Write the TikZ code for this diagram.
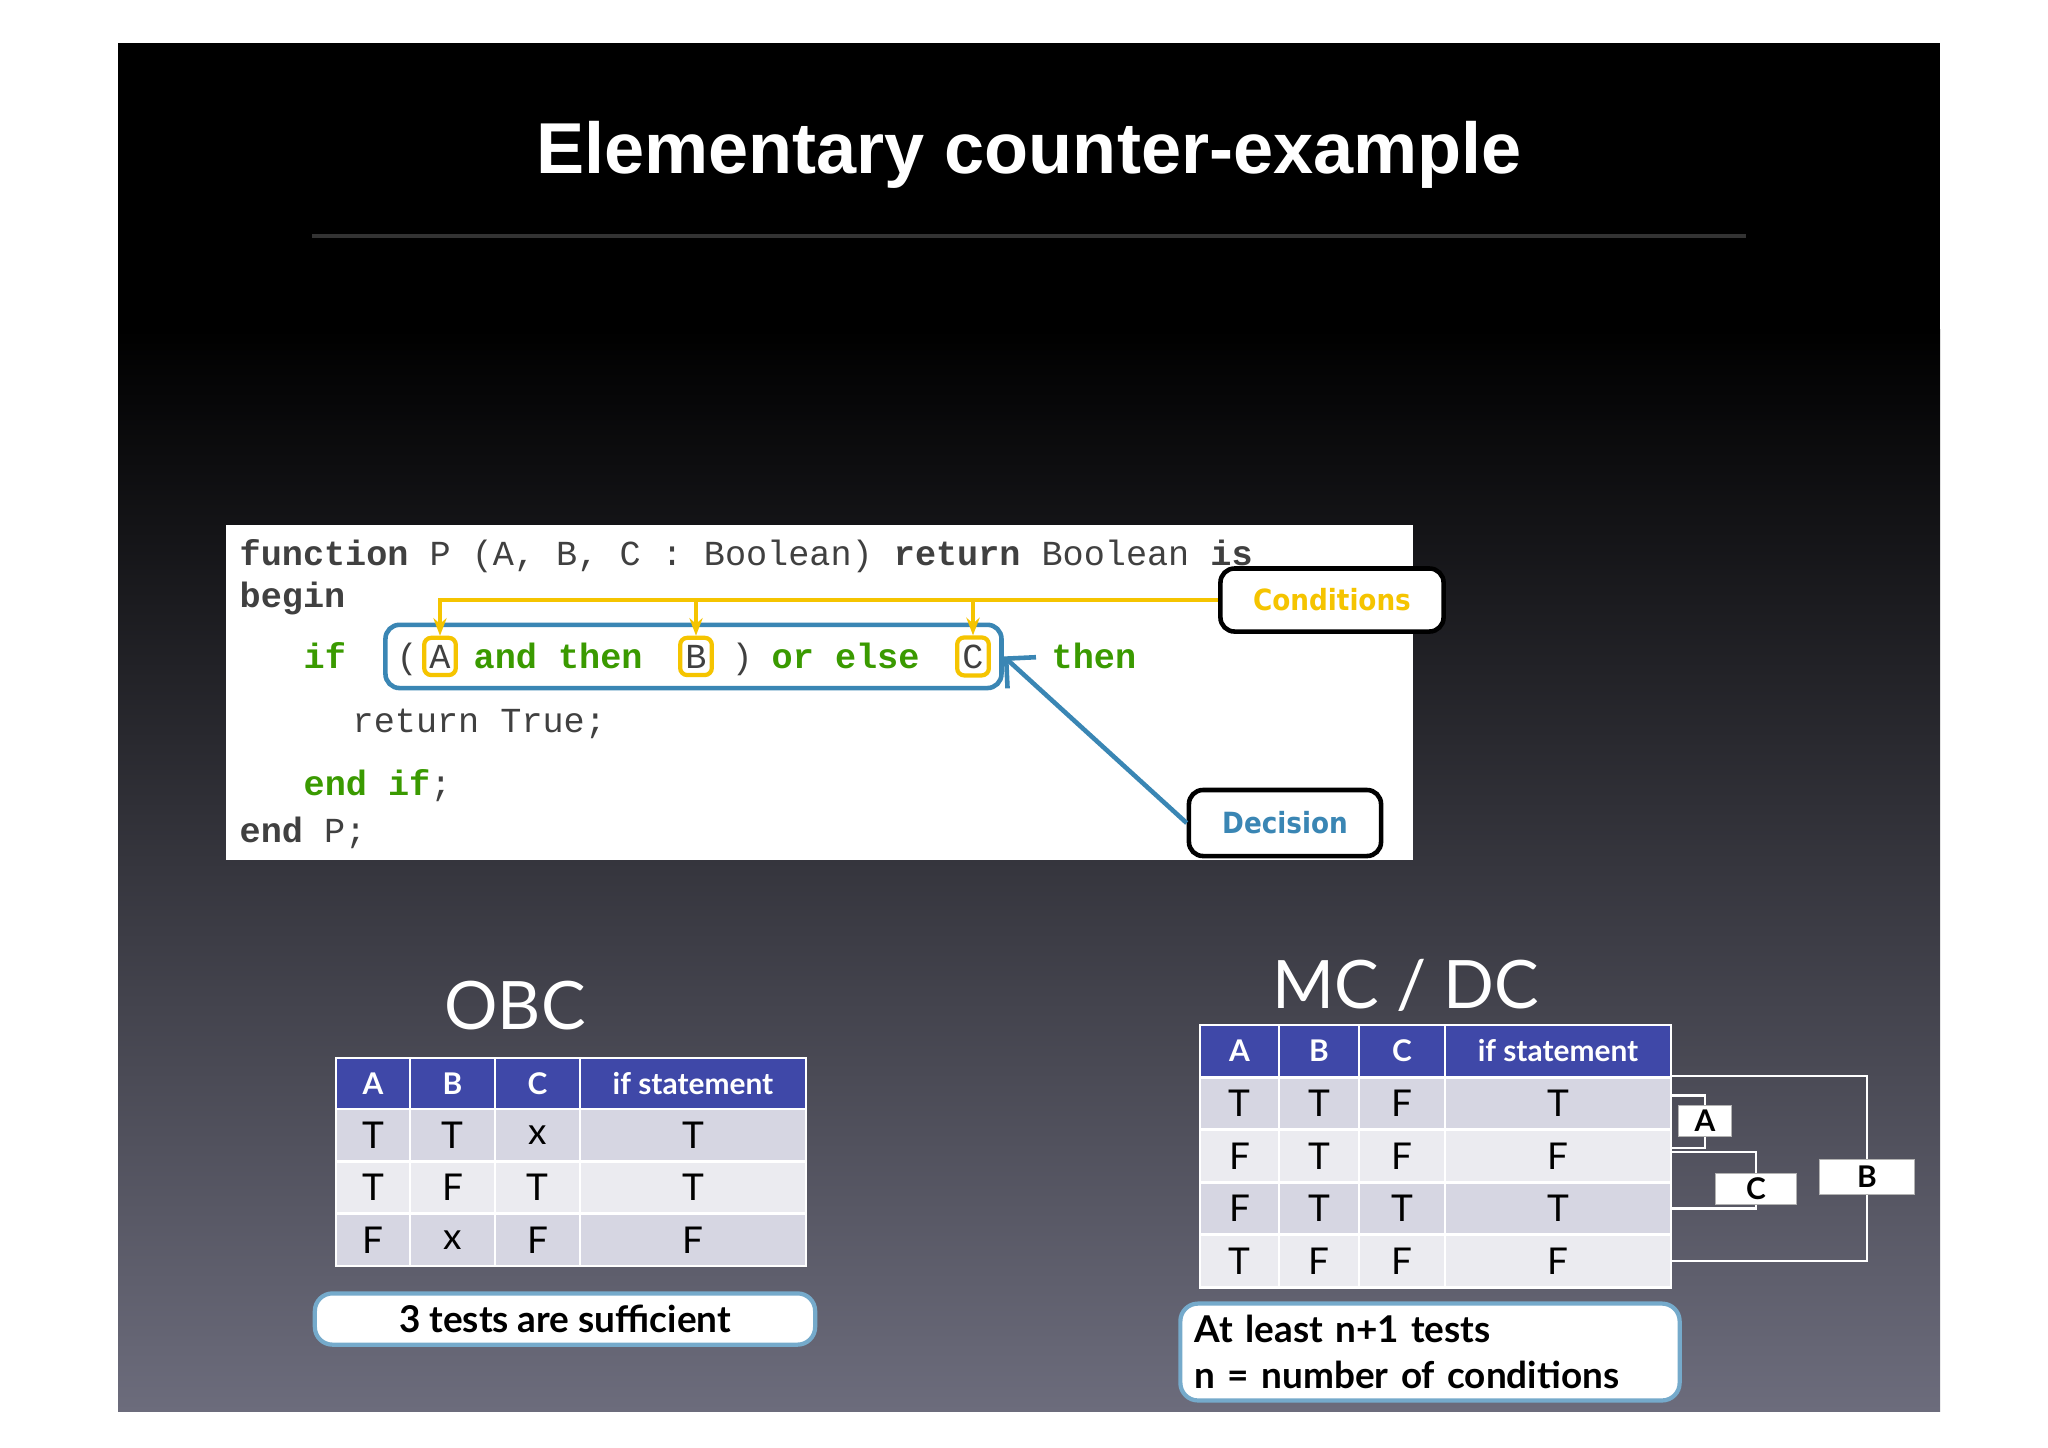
\documentclass[tikz,border=0pt]{standalone}
\usepackage{fontspec}
\setmainfont{Liberation Sans}
\newfontfamily\codefont{Liberation Mono}
\newfontfamily\gill{Lato}
\newfontfamily\callfont{DejaVu Sans Condensed}
\usetikzlibrary{arrows.meta, positioning, fit}
\definecolor{CodeGreen}{HTML}{3A9A00}
\definecolor{CondYellow}{HTML}{F5C400}
\definecolor{DecBlue}{HTML}{3A86B4}
\definecolor{HeadBlue}{HTML}{3F48A8}
\definecolor{RowDark}{HTML}{D6D6E2}
\definecolor{RowLight}{HTML}{EBEBF0}
\definecolor{SlideGray}{HTML}{6C6C7C}

\tikzset{
  code/.style={anchor=base west, inner sep=0pt, font=\codefont\fontsize{10}{12}\selectfont, text=black!75},
  kw/.style={code, font=\codefont\bfseries\fontsize{10}{12}\selectfont},
  gkw/.style={kw, text=CodeGreen},
  condbox/.style={code, anchor=base, draw=CondYellow, line width=1.2pt, rounded corners=2pt, inner xsep=1.5pt, inner ysep=2pt},
  callout/.style={draw=black, line width=1.3pt, fill=white, rounded corners=4pt, font=\callfont\bfseries\fontsize{8.3}{10}\selectfont},
  cell/.style={draw=white, line width=0.8pt, inner sep=0pt, font=\gill\fontsize{10.5}{12}\selectfont},
  hcell/.style={cell, fill=HeadBlue, text=white, font=\gill\bfseries\fontsize{8.5}{10}\selectfont},
  tag/.style={draw=gray!60, fill=white, inner sep=0pt, font=\gill\bfseries\fontsize{8.5}{10}\selectfont},
  note/.style={draw=DecBlue!70, line width=1.2pt, fill=white, rounded corners=5pt, font=\gill\bfseries\fontsize{10.5}{13}\selectfont}
}

\begin{document}
\begin{tikzpicture}[x=0.01cm, y=-0.01cm]
\useasboundingbox (0,0) rectangle (2048,1447);
\fill[white] (0,0) rectangle (2048,1447);
% slide background
\fill[black] (118,43) rectangle (1940,330);
\shade[top color=black, bottom color=SlideGray] (118,329) rectangle (1940,1411);

\node[font=\bfseries\fontsize{20.5}{24}\selectfont, text=white] (title) at (1029,155) {Elementary counter-example};
\draw[gray!40!black, line width=1.2pt] (312,236) -- (1746,236);

% code listing
\fill[white] (226,525) rectangle (1413,860);
\node[kw] (l1) at (239,565) {function\mdseries{} P (A, B, C : Boolean) \bfseries return\mdseries{} Boolean \bfseries is};
\node[kw] (l2) at (239,607) {begin};
\node[gkw] (kwIf) at (303,668) {if};
\node[code] (parL) at (396,668) {(};
\node[condbox] (condA) at (440,668) {A};
\node[gkw] (kwAnd) at (473,668) {and then};
\node[condbox] (condB) at (696,668) {B};
\node[code] (parR) at (731,668) {)};
\node[gkw] (kwOr) at (771,668) {or else};
\node[condbox] (condC) at (973,668) {C};
\node[gkw] (kwThen) at (1051,668) {then};
\node[code] (l4) at (352,732) {return True;};
\node[gkw] (l5) at (303,795) {end if\mdseries\color{black!75};};
\node[kw] (l6) at (239,842) {end\mdseries{} P;};
\node[draw=DecBlue, line width=1.3pt, rounded corners=4pt, inner xsep=3pt, inner ysep=3pt, fit=(parL)(condA)(condC)] (decision) {};

\node[callout, text=CondYellow, minimum width=2.23cm, minimum height=0.63cm] (conds) at (1332,600) {Conditions};
\node[callout, text=DecBlue, minimum width=1.92cm, minimum height=0.66cm] (decs) at (1285,823) {Decision};
\draw[CondYellow, line width=1.3pt, -{Stealth[length=5pt]}] (conds.west) -| (condA.north);
\draw[CondYellow, line width=1.3pt, -{Stealth[length=5pt]}] (condB |- conds.west) -- (condB.north);
\draw[CondYellow, line width=1.3pt, -{Stealth[length=5pt]}] (condC |- conds.west) -- (condC.north);
\draw[DecBlue, line width=1.3pt, -{Straight Barb[length=6pt]}] (decs.west) -- (decision.east);

% OBC table
\node[font=\gill\fontsize{19}{22}\selectfont, text=white] (obc) at (515,1006) {OBC};
\foreach \t [count=\c] in {A,B,C,if statement}{
  \pgfmathsetmacro{\cx}{{373,452.5,537.5,693}[\c-1]}
  \pgfmathsetmacro{\cw}{{0.74,0.85,0.85,2.26}[\c-1]}
  \node[hcell, minimum width=\cw cm, minimum height=0.51cm] (o-0-\c) at (\cx,1083.5) {\t};
}
\foreach \r/\cy/\f/\row in {1/1135/RowDark/{T,T,x,T}, 2/1187.5/RowLight/{T,F,T,T}, 3/1240/RowDark/{F,x,F,F}}{
  \foreach \t [count=\c] in \row {
    \pgfmathsetmacro{\cx}{{373,452.5,537.5,693}[\c-1]}
    \pgfmathsetmacro{\cw}{{0.74,0.85,0.85,2.26}[\c-1]}
    \node[cell, fill=\f, minimum width=\cw cm, minimum height=0.52cm] (o-\r-\c) at (\cx,\cy) {\t};
  }
}
\node[note, minimum width=5cm, minimum height=0.47cm] (obcnote) at (565,1319) {3 tests are sufficient};

% MC/DC table
\node[font=\gill\fontsize{19}{22}\selectfont, text=white] (mcdc) at (1406,985) {MC / DC};
\foreach \t [count=\c] in {A,B,C,if statement}{
  \pgfmathsetmacro{\cx}{{1239.5,1319,1402,1558}[\c-1]}
  \pgfmathsetmacro{\cw}{{0.79,0.80,0.86,2.26}[\c-1]}
  \node[hcell, minimum width=\cw cm, minimum height=0.52cm] (m-0-\c) at (\cx,1051) {\t};
}
\foreach \r/\cy/\f/\row in {1/1103.5/RowDark/{T,T,F,T}, 2/1156/RowLight/{F,T,F,F}, 3/1208.5/RowDark/{F,T,T,T}, 4/1261/RowLight/{T,F,F,F}}{
  \foreach \t [count=\c] in \row {
    \pgfmathsetmacro{\cx}{{1239.5,1319,1402,1558}[\c-1]}
    \pgfmathsetmacro{\cw}{{0.79,0.80,0.86,2.26}[\c-1]}
    \node[cell, fill=\f, minimum width=\cw cm, minimum height=0.525cm] (m-\r-\c) at (\cx,\cy) {\t};
  }
}
\node[tag, minimum width=0.53cm, minimum height=0.31cm] (tagA) at (1705,1121) {A};
\node[tag, minimum width=0.81cm, minimum height=0.31cm] (tagC) at (1756,1189) {C};
\node[tag, minimum width=0.95cm, minimum height=0.35cm] (tagB) at (1867,1177) {B};
\draw[white, line width=0.6pt] ([yshift=0.08cm]m-1-4.east) -| (tagA.north);
\draw[white, line width=0.6pt] ([yshift=0.08cm]m-2-4.east) -| (tagA.south);
\draw[white, line width=0.6pt] ([yshift=0.04cm]m-2-4.east) -| (tagC.north);
\draw[white, line width=0.6pt] (m-3-4.east) -| (tagC.south);
\draw[white, line width=0.6pt] (m-1-4.north east) -| (tagB.north);
\draw[white, line width=0.6pt] (m-4-4.east) -| (tagB.south);
\node[note, minimum width=4.99cm, minimum height=0.93cm, align=left, text width=4.7cm] (mcdcnote) at (1430,1352) {At least n+1 tests\\n = number of conditions};
\end{tikzpicture}
\end{document}
